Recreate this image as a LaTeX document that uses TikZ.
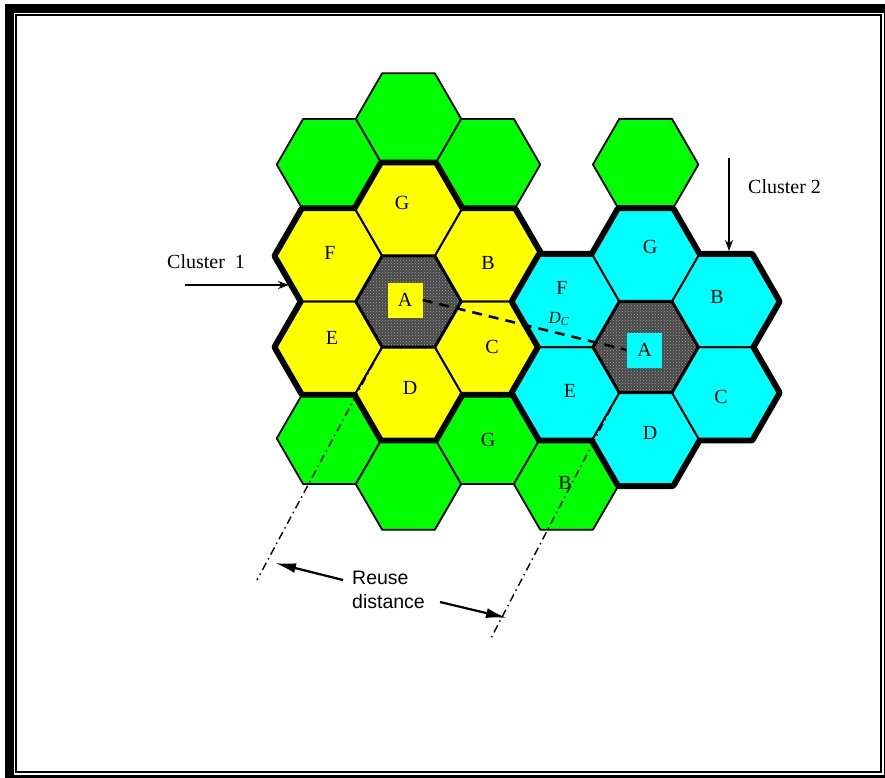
\documentclass[tikz,border=0pt]{standalone}
\usepackage{fontspec}
\setmainfont{Liberation Serif}
\newfontfamily\reusefont{Liberation Sans}
\usetikzlibrary{arrows.meta,patterns}
\definecolor{cellyellow}{RGB}{255,255,0}
\definecolor{cellgreen}{RGB}{0,255,0}
\definecolor{cellcyan}{RGB}{0,255,255}
\newcommand\hexR{52.7}
\newcommand\hexpath[1]{(#1) ++(0:\hexR) -- ++(120:\hexR) -- ++(180:\hexR) -- ++(240:\hexR) -- ++(300:\hexR) -- ++(0:\hexR) -- cycle}

\begin{document}
\begin{tikzpicture}[x=1pt,y=-1pt,
  thinedge/.style={draw=black,line width=1.8pt,line join=round},
  clusteredge/.style={draw=black,line width=10pt,line join=round},
  cellletter/.style={font=\fontsize{20}{22}\selectfont,inner sep=0pt},
  clusterlabel/.style={font=\fontsize{20}{22}\selectfont,inner sep=0pt,anchor=west},
  asquare/.style={minimum size=35pt,inner sep=0pt,font=\fontsize{20}{22}\selectfont},
  reuseline/.style={line width=1.4pt,dash pattern=on 8pt off 4pt on 1.5pt off 4pt},
  pointer/.style={line width=1.6pt,-{Stealth[length=11pt,width=8pt]}},
  reusearrow/.style={line width=2.2pt,-{Latex[length=21pt,width=10pt]}}]
\useasboundingbox (0,0) rectangle (885,778);
\fill[white] (0,0) rectangle (885,778);
% frame
\fill[black] (5,4) rectangle (885,778);
\fill[white] (14,13) rectangle (883.5,775);
\draw[line width=2pt] (16.2,15.5) rectangle (881.3,772);
% cell centres
\foreach \n/\x/\y in {c1A/408.5/301.5,c1G/408.5/210.2,c1B/487.55/255.9,c1C/487.55/347.1,c1D/408.5/392.8,c1E/329.45/347.1,c1F/329.45/255.9,
  c2A/645.65/347.1,c2G/645.65/255.8,c2B/724.7/301.5,c2C/724.7/392.8,c2D/645.65/438.4,c2E/566.6/392.8,c2F/566.6/301.5,
  gT/408.5/118.9,gTL/329.45/164.6,gTR/487.55/164.6,gT2/645.65/164.5,gBL/329.45/438.4,gB/408.5/484.1,gG/487.55/438.4,gB2/566.6/484.1}
  \coordinate (\n) at (\x,\y);
% outer ring
\foreach \c in {gT,gTL,gTR,gT2,gBL,gB,gG,gB2} \draw[thinedge,fill=cellgreen] \hexpath{\c};
% cluster 1
\foreach \c in {A,B,C,D,E,F,G} \draw[clusteredge] \hexpath{c1\c};
\foreach \c in {B,C,D,E,F,G} \fill[cellyellow] \hexpath{c1\c};
\fill[black!72] \hexpath{c1A};
\fill[pattern=crosshatch dots,pattern color=black!35] \hexpath{c1A};
\foreach \c in {B,C,D,E,F,G} \draw[thinedge] \hexpath{c1\c};
\draw[thinedge,line width=3pt] \hexpath{c1A};
% cluster 2
\foreach \c in {A,B,C,D,E,F,G} \draw[clusteredge] \hexpath{c2\c};
\foreach \c in {B,C,D,E,F,G} \fill[cellcyan] \hexpath{c2\c};
\fill[black!72] \hexpath{c2A};
\fill[pattern=crosshatch dots,pattern color=black!35] \hexpath{c2A};
\foreach \c in {B,C,D,E,F,G} \draw[thinedge] \hexpath{c2\c};
\draw[thinedge,line width=3pt] \hexpath{c2A};
% letters
\foreach \n/\t/\x/\y in {l1G/G/402/203,l1F/F/330/253,l1B/B/488/263,l1E/E/332/338,l1C/C/492/347,l1D/D/410/388,
  l2G/G/650/247,l2F/F/562/288,l2B/B/717/297,l2E/E/570/391,l2C/C/721/397,l2D/D/650/433,lgG/G/488/440,lgB/B/565/483}
  \node[cellletter] (\n) at (\x,\y) {\t};
\node[asquare,fill=cellyellow] (sq1) at (405,300) {A};
\node[asquare,fill=cellcyan] (sq2) at (644.5,350) {A};
% co-channel distance
\draw[line width=2.6pt,dash pattern=on 10pt off 7pt] (sq1.east) -- (sq2.west);
\node[font=\fontsize{17}{19}\selectfont,inner sep=0pt] (dc) at (559,319) {\textit{D}\textsubscript{\textit{C}}};
% reuse distance
\coordinate (r1a) at (382.2,347.1); \coordinate (r1b) at (257,580);
\coordinate (r2a) at (619.3,392.7); \coordinate (r2b) at (490,640);
\draw[reuseline] (r1a) -- (r1b);
\draw[reuseline] (r2a) -- (r2b);
\node[font=\reusefont\fontsize{19.5}{24}\selectfont,align=left,inner sep=0pt,anchor=west] (reuse) at (352,590) {Reuse\\distance};
\coordinate (ra1) at (343,580); \coordinate (ra1tip) at (275,563);
\coordinate (ra2) at (440,602); \coordinate (ra2tip) at (507,618);
\draw[reusearrow] (ra1) -- (ra1tip);
\draw[reusearrow] (ra2) -- (ra2tip);
% cluster labels
\node[clusterlabel] (cl1) at (167,262) {Cluster\ \ 1};
\node[clusterlabel] (cl2) at (748,187) {Cluster 2};
\coordinate (p1a) at (185,285); \coordinate (p1b) at (289,285);
\coordinate (p2a) at (729,158); \coordinate (p2b) at (729,251);
\draw[pointer] (p1a) -- (p1b);
\draw[pointer] (p2a) -- (p2b);
\end{tikzpicture}
\end{document}
